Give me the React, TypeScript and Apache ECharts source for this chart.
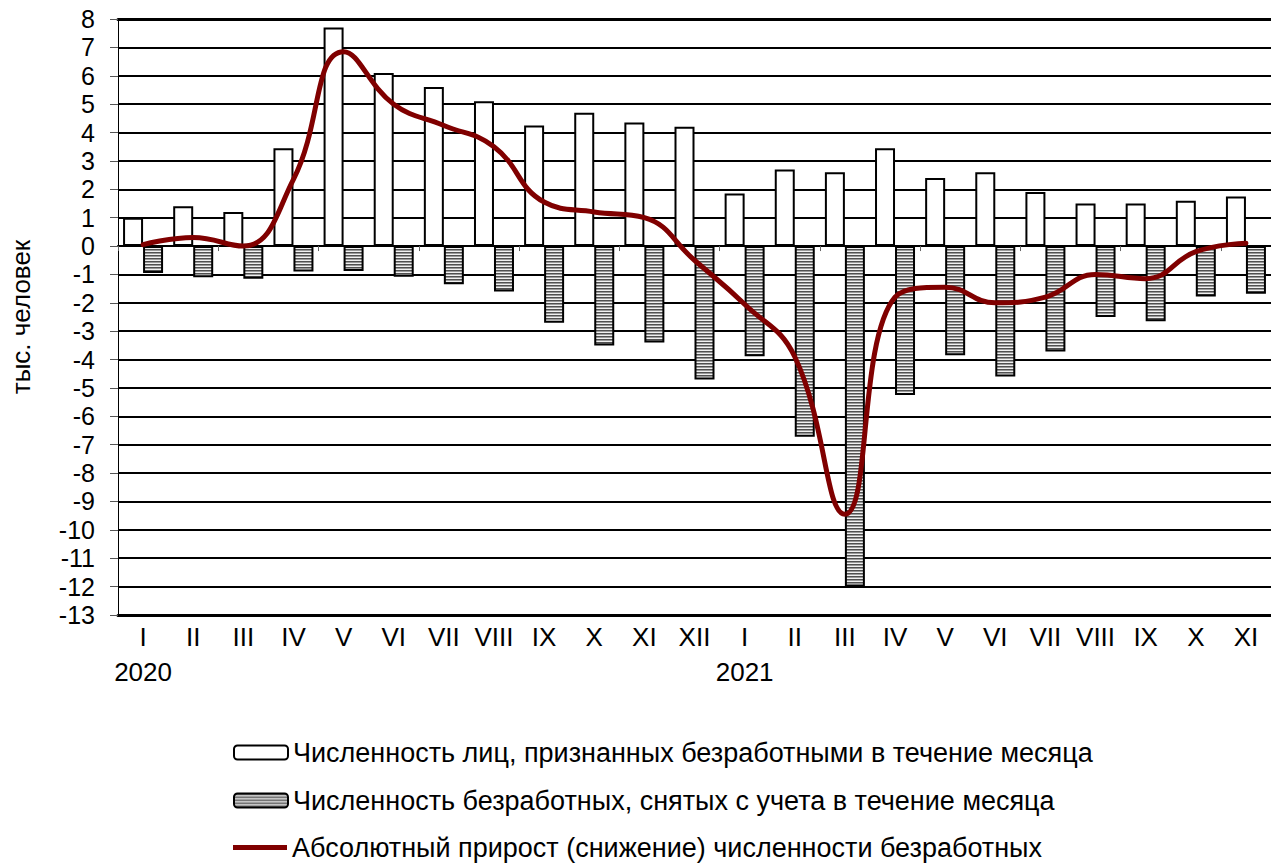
import React, { useEffect, useRef } from "react";
import * as echarts from "echarts";

const monthLabels = ["I","II","III","IV","V","VI","VII","VIII","IX","X","XI","XII","I","II","III","IV","V","VI","VII","VIII","IX","X","XI"];
const yearLabels = ["2020","","","","","","","","","","","","2021","","","","","","","","","",""];
const categories = monthLabels.map((m, i) => (i < 12 ? "2020-" : "2021-") + m);

const recognized = [1.0, 1.4, 1.2, 3.45, 7.7, 6.1, 5.6, 5.1, 4.25, 4.7, 4.35, 4.2, 1.85, 2.7, 2.6, 3.45, 2.4, 2.6, 1.9, 1.5, 1.5, 1.6, 1.75];
const removed = [-0.95, -1.1, -1.15, -0.9, -0.88, -1.08, -1.35, -1.6, -2.7, -3.5, -3.4, -4.7, -3.88, -6.72, -12.0, -5.25, -3.85, -4.6, -3.72, -2.5, -2.65, -1.78, -1.68];
const netChange = [0.05, 0.3, 0.0, 2.35, 6.85, 5.0, 4.25, 3.5, 1.55, 1.2, 1.0, -0.5, -2.05, -3.9, -9.45, -1.8, -1.45, -2.0, -1.8, -1.0, -1.15, -0.2, 0.1];

const seriesNames = [
  "Численность лиц, признанных безработными в течение месяца",
  "Численность безработных, снятых с учета в течение месяца",
  "Абсолютный прирост (снижение) численности безработных",
];
const yAxisTitle = "тыс. человек";

const FONT = "'Liberation Sans', Arial, sans-serif";

function makeHatch() {
  const c = document.createElement("canvas");
  c.width = 4;
  c.height = 3;
  const ctx = c.getContext("2d")!;
  const rows = ["#505050", "#9a9a9a", "#f0f0f0"];
  rows.forEach((col, i) => {
    ctx.fillStyle = col;
    ctx.fillRect(0, i, 4, 1);
  });
  return c;
}

export default function App() {
  const ref = useRef<HTMLDivElement>(null);
  useEffect(() => {
    if (!ref.current) return;
    const chart = echarts.init(ref.current, null, { renderer: "svg" });
    const hatch = makeHatch();
    const pattern: any = { image: hatch, repeat: "repeat", imageWidth: 4, imageHeight: 3 };
    const legendBase = {
      orient: "horizontal",
      left: 233,
      itemWidth: 54,
      itemHeight: 14,
      itemGap: 5,
      textStyle: { fontFamily: FONT, fontSize: 27, color: "#000", lineHeight: 26 },
      padding: 0,
    };
    chart.setOption({
      animation: false,
      backgroundColor: "#fff",
      textStyle: { fontFamily: FONT },
      grid: { left: 118, right: 0, top: 19, bottom: 248, containLabel: false, outerBoundsMode: "none" },
      legend: [
        { ...legendBase, top: 739, data: [seriesNames[0]] },
        { ...legendBase, top: 787, data: [seriesNames[1]] },
        { ...legendBase, top: 834, data: [{ name: seriesNames[2], icon: "path://M0,0 L54,0 L54,5 L0,5 Z", itemStyle: { color: "#800000" } }], itemHeight: 5 },
      ],
      xAxis: [
        {
          type: "category",
          data: categories,
          position: "bottom",
          axisLine: { onZero: false, lineStyle: { color: "#000", width: 3 } },
          axisTick: { show: false },
          axisLabel: {
            fontFamily: FONT,
            fontSize: 26,
            color: "#000",
            lineHeight: 35,
            margin: 4,
            interval: 0,
            formatter: (_v: string, i: number) =>
              yearLabels[i] ? monthLabels[i] + "\n" + yearLabels[i] : monthLabels[i],
          },
          splitLine: { show: false },
        },
        {
          type: "category",
          data: categories,
          position: "bottom",
          axisLine: { onZero: true, lineStyle: { color: "#000", width: 2 } },
          axisTick: { show: true, length: 5, lineStyle: { color: "#666", width: 1 } },
          axisLabel: { show: false },
          splitLine: { show: false },
        },
        {
          type: "category",
          data: categories,
          position: "top",
          axisLine: { onZero: false, lineStyle: { color: "#000", width: 3 } },
          axisTick: { show: false },
          axisLabel: { show: false },
        },
      ],
      yAxis: {
        type: "value",
        min: -13,
        max: 8,
        interval: 1,
        name: yAxisTitle,
        nameLocation: "middle",
        nameRotate: 90,
        nameGap: 84,
        nameTextStyle: { fontFamily: FONT, fontSize: 26, color: "#000" },
        axisLine: { show: true, lineStyle: { color: "#000", width: 1 } },
        axisTick: { show: true, length: 8, lineStyle: { color: "#555", width: 1 } },
        axisLabel: { fontFamily: FONT, fontSize: 25, color: "#000", margin: 23 },
        splitLine: { show: true, lineStyle: { color: "#000", width: 2 } },
      },
      series: [
        {
          name: seriesNames[0],
          type: "bar",
          xAxisIndex: 0,
          data: recognized,
          barWidth: 20,
          barGap: "0%",
          itemStyle: { color: "#fff", borderColor: "#000", borderWidth: 2 },
          z: 3,
        },
        {
          name: seriesNames[1],
          type: "bar",
          xAxisIndex: 0,
          data: removed,
          barWidth: 20,
          barGap: "0%",
          itemStyle: { color: pattern, borderColor: "#000", borderWidth: 2 },
          z: 3,
        },
        {
          name: seriesNames[2],
          type: "line",
          xAxisIndex: 0,
          data: netChange,
          smooth: 0.45,
          symbol: "none",
          showSymbol: false,
          lineStyle: { color: "#800000", width: 5, cap: "round" },
          itemStyle: { color: "#800000" },
          z: 5,
        },
      ],
    });
    return () => chart.dispose();
  }, []);
  return <div ref={ref} style={{ width: 1271, height: 863, position: "absolute", left: 0, top: 0 }} />;
}
